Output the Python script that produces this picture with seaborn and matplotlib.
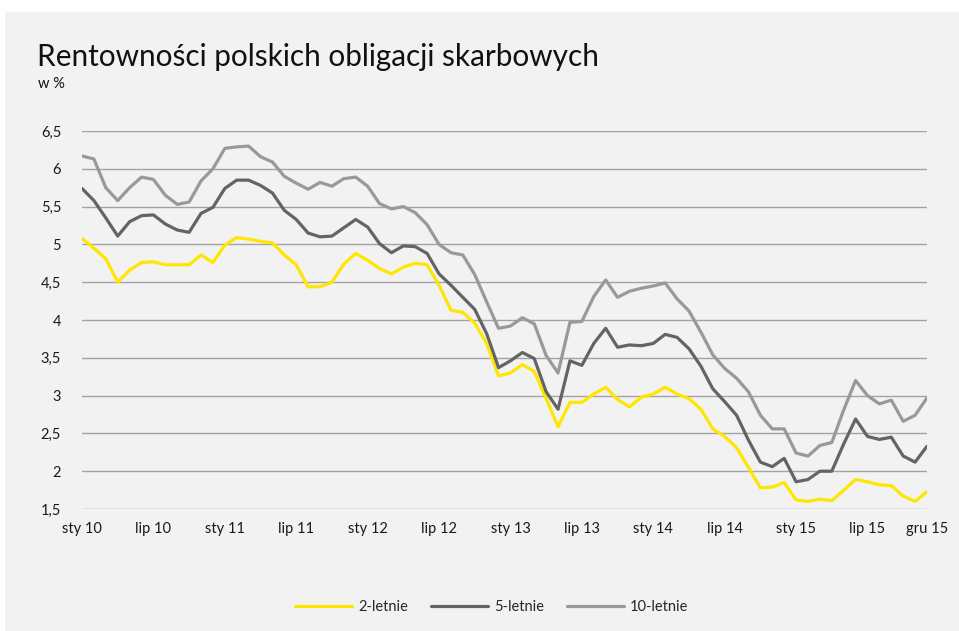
import numpy as np
import pandas as pd
import matplotlib
matplotlib.use('Agg')
import matplotlib.pyplot as plt
import seaborn as sns
from matplotlib.patches import Rectangle

# dane: miesięczne rentowności, sty 2010 - gru 2015
y2 = [5.08, 4.95, 4.81, 4.50, 4.66, 4.76, 4.77, 4.73, 4.73, 4.73, 4.86, 4.76,
      4.99, 5.09, 5.07, 5.04, 5.02, 4.86, 4.73, 4.44, 4.44, 4.50, 4.74, 4.88,
      4.79, 4.68, 4.61, 4.70, 4.75, 4.73, 4.46, 4.13, 4.10, 3.96, 3.69, 3.26,
      3.30, 3.41, 3.32, 2.96, 2.59, 2.91, 2.91, 3.02, 3.11, 2.95, 2.85, 2.98,
      3.02, 3.11, 3.02, 2.96, 2.82, 2.56, 2.46, 2.31, 2.05, 1.78, 1.79, 1.85,
      1.62, 1.60, 1.63, 1.61, 1.75, 1.89, 1.86, 1.82, 1.81, 1.67, 1.60, 1.73]
y5 = [5.74, 5.58, 5.35, 5.11, 5.30, 5.38, 5.39, 5.27, 5.19, 5.16, 5.41, 5.49,
      5.74, 5.85, 5.85, 5.78, 5.68, 5.45, 5.33, 5.15, 5.10, 5.11, 5.22, 5.33,
      5.23, 5.01, 4.89, 4.98, 4.97, 4.88, 4.61, 4.46, 4.30, 4.14, 3.82, 3.37,
      3.46, 3.57, 3.49, 3.05, 2.82, 3.46, 3.40, 3.69, 3.89, 3.64, 3.67, 3.66,
      3.69, 3.81, 3.77, 3.62, 3.39, 3.09, 2.92, 2.74, 2.41, 2.12, 2.06, 2.17,
      1.86, 1.89, 2.00, 2.00, 2.36, 2.69, 2.46, 2.42, 2.45, 2.20, 2.12, 2.33]
y10 = [6.17, 6.13, 5.75, 5.58, 5.75, 5.89, 5.86, 5.65, 5.53, 5.56, 5.84, 6.00,
       6.27, 6.29, 6.30, 6.16, 6.09, 5.90, 5.81, 5.73, 5.82, 5.77, 5.87, 5.89,
       5.77, 5.54, 5.47, 5.50, 5.42, 5.26, 5.00, 4.89, 4.86, 4.60, 4.24, 3.89,
       3.92, 4.03, 3.95, 3.53, 3.30, 3.97, 3.98, 4.31, 4.53, 4.30, 4.38, 4.42,
       4.45, 4.49, 4.28, 4.12, 3.84, 3.54, 3.36, 3.23, 3.05, 2.74, 2.56, 2.56,
       2.24, 2.20, 2.34, 2.38, 2.81, 3.20, 3.00, 2.89, 2.94, 2.66, 2.74, 2.97]

series_names = ['2-letnie', '5-letnie', '10-letnie']
series_colors = ['#FFE600', '#646464', '#999999']

tick_pos = [0, 6, 12, 18, 24, 30, 36, 42, 48, 54, 60, 66, 71]
tick_labels = ['sty 10', 'lip 10', 'sty 11', 'lip 11', 'sty 12', 'lip 12',
               'sty 13', 'lip 13', 'sty 14', 'lip 14', 'sty 15', 'lip 15', 'gru 15']

months = np.arange(len(y2))
df = pd.concat([
    pd.DataFrame({'miesiac': months, 'wartosc': vals, 'seria': name})
    for name, vals in zip(series_names, [y2, y5, y10])
])

sns.set_style('white')
plt.rcParams['font.family'] = ['Lato', 'DejaVu Sans']

fig = plt.figure(figsize=(9.59, 6.31), dpi=100, facecolor='white')
# szare tło panelu
fig.patches.append(Rectangle((5 / 959, 0), 1, 1 - 12 / 631, transform=fig.transFigure,
                             facecolor='#f2f2f2', edgecolor='none', zorder=-10))

ax = fig.add_axes([82 / 959, 1 - 509 / 631, (927 - 82) / 959, (509 - 131) / 631])
ax.set_facecolor('#f2f2f2')

sns.lineplot(data=df, x='miesiac', y='wartosc', hue='seria', hue_order=series_names,
             palette=series_colors, linewidth=2.3, ax=ax, legend=False, zorder=3)

ax.set_xlim(0, 71)
ax.set_ylim(1.5, 6.5)
yt = np.arange(1.5, 6.51, 0.5)
ax.set_yticks(yt)
ax.set_yticklabels([('%g' % v).replace('.', ',') for v in yt], fontsize=10.5, color='#1a1a1a')
ax.set_xticks(tick_pos)
ax.set_xticklabels(tick_labels, fontsize=10.5, color='#1a1a1a')
ax.tick_params(axis='y', length=0, pad=15)
ax.tick_params(axis='x', length=0, pad=9)
ax.grid(axis='y', color='#a3a3a3', linewidth=1.0, zorder=1)
ax.grid(axis='x', visible=False)
for s in ax.spines.values():
    s.set_visible(False)
ax.set_xlabel('')
ax.set_ylabel('')

fig.text(37 / 959, 1 - 66 / 631, 'Rentowności polskich obligacji skarbowych',
         fontsize=21.4, color='#111111', ha='left', va='baseline')
fig.text(38 / 959, 1 - 88 / 631, 'w %', fontsize=10.5, color='#111111',
         ha='left', va='baseline')

handles = [plt.Line2D([], [], color=c, linewidth=2.3) for c in series_colors]
fig.legend(handles, series_names, loc='center', bbox_to_anchor=(492 / 959, 1 - 607 / 631),
           ncol=3, frameon=False, fontsize=10.5, handlelength=3.9,
           columnspacing=1.6, handletextpad=0.4)

fig.savefig('out.png', dpi=100, facecolor=fig.get_facecolor())
